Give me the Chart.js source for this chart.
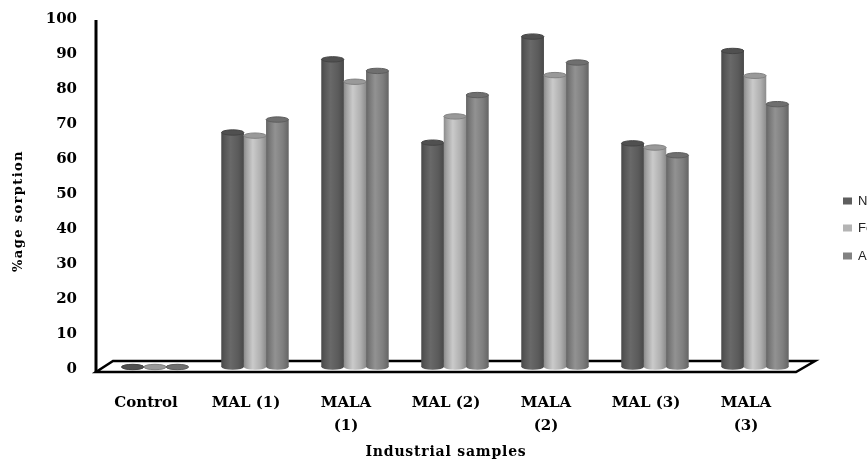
<!DOCTYPE html>
<html>
<head>
<meta charset="utf-8">
<script src="https://cdn.jsdelivr.net/npm/chart.js@4/dist/chart.umd.min.js"></script>
<style>
  html, body { margin: 0; padding: 0; background: #fff; overflow: hidden; }
  canvas { display: block; }
</style>
</head>
<body>
<canvas id="chart" width="867" height="459"></canvas>
<script>
// Sample groups along the x axis
const categories = ['Control', 'MAL (1)', ['MALA', '(1)'], 'MAL (2)', ['MALA', '(2)'], 'MAL (3)', ['MALA', '(3)']];

// Metal series
const seriesNames = ['Ni', 'Fe', 'Al'];
const niValues = [0, 67.0, 87.9, 64.1, 94.4, 63.9, 90.3];
const feValues = [0, 66.1, 81.5, 71.6, 83.4, 62.7, 83.2];
const alValues = [0, 70.7, 84.6, 77.7, 87.0, 60.5, 75.1];

// Value axis
const yMin = 0;
const yMax = 100;
const yStep = 10;

const yTitle = '%age sorption';
const xTitle = 'Industrial samples';

const seriesColors = ['#5e5e5e', '#b4b4b4', '#828282'];

const serifBold = { family: '"DejaVu Serif", serif', weight: 'bold' };

// Depth offsets of the pseudo-3D floor relative to the plot plane
const FRONT = { dx: -9, dy: 5 };
const BACK = { dx: 10, dy: -6 };

function shade(hex, f) {
  const n = parseInt(hex.slice(1), 16);
  const c = [(n >> 16) & 255, (n >> 8) & 255, n & 255].map(v => Math.max(0, Math.min(255, Math.round(v * f))));
  return 'rgb(' + c.join(',') + ')';
}

// Floor slab and left wall edge
const floorPlugin = {
  id: 'floor',
  beforeDatasetsDraw(chart) {
    const { ctx, chartArea } = chart;
    const { left, right, bottom } = chartArea;
    const y = chart.scales.y;
    ctx.save();
    ctx.beginPath();
    ctx.moveTo(left + FRONT.dx, bottom + FRONT.dy);
    ctx.lineTo(right + FRONT.dx, bottom + FRONT.dy);
    ctx.lineTo(right + BACK.dx, bottom + BACK.dy);
    ctx.lineTo(left + BACK.dx - 2, bottom + BACK.dy);
    ctx.closePath();
    ctx.fillStyle = '#ffffff';
    ctx.fill();
    ctx.lineWidth = 2.5;
    ctx.strokeStyle = '#000';
    ctx.lineJoin = 'miter';
    ctx.stroke();
    ctx.beginPath();
    ctx.moveTo(left + FRONT.dx, y.getPixelForValue(yMax) + 3);
    ctx.lineTo(left + FRONT.dx, bottom + FRONT.dy + 1);
    ctx.lineWidth = 3;
    ctx.stroke();
    ctx.restore();
  }
};

// Shaded cylinders on top of each bar element
const cylinderPlugin = {
  id: 'cylinders',
  afterDatasetsDraw(chart) {
    const ctx = chart.ctx;
    chart.data.datasets.forEach((ds, i) => {
      const meta = chart.getDatasetMeta(i);
      if (meta.hidden) return;
      const base = ds.backgroundColor;
      meta.data.forEach(el => {
        const p = el.getProps(['x', 'y', 'base', 'width'], true);
        const w = p.width;
        const r = w / 2;
        const ry = Math.max(2, w * 0.12);
        const x0 = p.x - r;
        const top = Math.min(p.y, p.base);
        const bot = p.base;
        const g = ctx.createLinearGradient(x0, 0, x0 + w, 0);
        g.addColorStop(0, shade(base, 0.78));
        g.addColorStop(0.12, shade(base, 0.9));
        g.addColorStop(0.4, shade(base, 1.12));
        g.addColorStop(0.75, shade(base, 0.97));
        g.addColorStop(1, shade(base, 0.78));
        ctx.save();
        ctx.fillStyle = g;
        ctx.fillRect(x0, top, w, bot - top);
        ctx.beginPath();
        ctx.ellipse(p.x, bot, r, ry, 0, 0, Math.PI * 2);
        ctx.fill();
        ctx.beginPath();
        ctx.ellipse(p.x, top, r, ry, 0, 0, Math.PI * 2);
        ctx.fillStyle = shade(base, 0.85);
        ctx.fill();
        ctx.lineWidth = 1;
        ctx.strokeStyle = shade(base, 0.72);
        ctx.stroke();
        ctx.restore();
      });
    });
  }
};

// Series key at the right edge and axis titles
const annotationsPlugin = {
  id: 'keyAndTitles',
  afterDraw(chart) {
    const ctx = chart.ctx;
    const { left, right } = chart.chartArea;
    ctx.save();
    // key
    const keyX = 843;
    const keyY = [201, 228, 256];
    ctx.font = '13px "Liberation Sans", Arial, sans-serif';
    ctx.textBaseline = 'middle';
    ctx.textAlign = 'left';
    chart.data.datasets.forEach((ds, i) => {
      ctx.fillStyle = ds.backgroundColor;
      ctx.fillRect(keyX, keyY[i] - 3.5, 9, 7);
      ctx.fillStyle = '#222';
      ctx.fillText(ds.label, keyX + 15, keyY[i]);
    });
    // x title
    ctx.fillStyle = '#000';
    ctx.font = 'bold 14px "DejaVu Serif", serif';
    ctx.letterSpacing = '0.8px';
    ctx.textAlign = 'center';
    ctx.textBaseline = 'alphabetic';
    ctx.fillText(xTitle, (left + right) / 2 + FRONT.dx, 456);
    // y title
    ctx.translate(22, 211);
    ctx.rotate(-Math.PI / 2);
    ctx.font = 'bold 13px "DejaVu Serif", serif';
    ctx.letterSpacing = '1.4px';
    ctx.fillText(yTitle, 0, 0);
    ctx.restore();
  }
};

new Chart(document.getElementById('chart'), {
  type: 'bar',
  data: {
    labels: categories,
    datasets: [
      { label: seriesNames[0], data: niValues, backgroundColor: seriesColors[0] },
      { label: seriesNames[1], data: feValues, backgroundColor: seriesColors[1] },
      { label: seriesNames[2], data: alValues, backgroundColor: seriesColors[2] }
    ]
  },
  options: {
    responsive: false,
    devicePixelRatio: 1,
    animation: false,
    layout: { padding: { top: 17, right: 62, bottom: 0, left: 0 } },
    datasets: {
      bar: { categoryPercentage: 0.67, barPercentage: 1.0, borderWidth: 0 }
    },
    plugins: {
      legend: { display: false },
      tooltip: { enabled: false }
    },
    scales: {
      x: {
        grid: { display: false, drawTicks: false },
        border: { display: false },
        ticks: {
          color: '#000',
          font: { ...serifBold, size: 15, lineHeight: 1.5 },
          padding: 25,
          labelOffset: -9,
          maxRotation: 0,
          autoSkip: false
        },
        afterFit(scale) { scale.height = 92; }
      },
      y: {
        min: yMin,
        max: yMax,
        grid: { display: false, drawTicks: false },
        border: { display: false },
        ticks: {
          stepSize: yStep,
          color: '#000',
          font: { ...serifBold, size: 15 },
          padding: 28,
          labelOffset: 2
        },
        afterFit(scale) {
          scale.width = 105;
          scale.paddingTop = 0;
          scale.paddingBottom = 0;
        }
      }
    }
  },
  plugins: [floorPlugin, cylinderPlugin, annotationsPlugin]
});
</script>
</body>
</html>
